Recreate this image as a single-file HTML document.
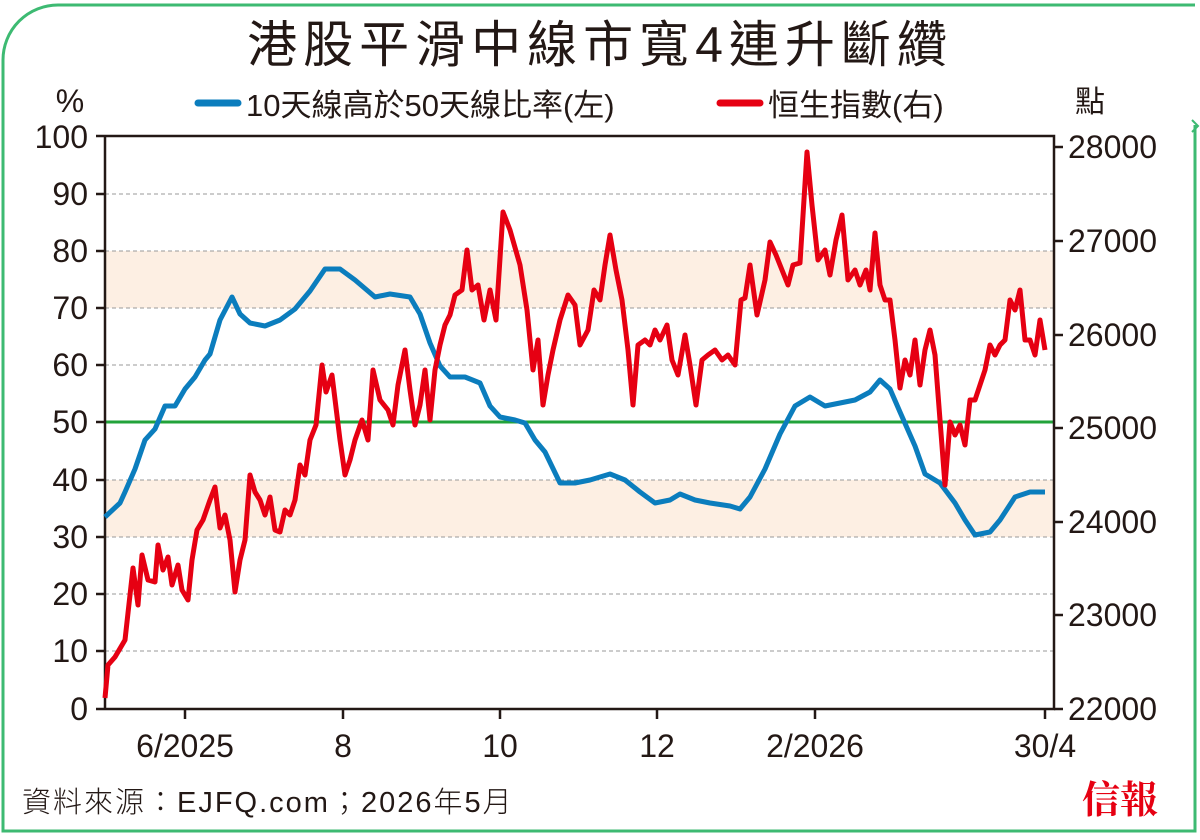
<!DOCTYPE html>
<html><head><meta charset="utf-8"><style>
body{margin:0;background:#fff;}
svg text{font-family:"Liberation Sans","Noto Sans CJK TC",sans-serif;fill:#231815;}
</style></head><body>
<svg width="1200" height="835" viewBox="0 0 1200 835" xmlns="http://www.w3.org/2000/svg">
<path d="M1195 125 V831 H3 V60 A55 55 0 0 1 58 5 H1195" fill="none" stroke="#3dba72" stroke-width="3"/>
<text x="600" y="62" font-size="50" text-anchor="middle" style="letter-spacing:6px">港股平滑中線市寬4連升斷纘</text>
<text x="70" y="112" font-size="32" text-anchor="middle">%</text>
<text x="1090" y="112" font-size="30" text-anchor="middle">點</text>
<line x1="198" y1="103" x2="238" y2="103" stroke="#0b7dbd" stroke-width="7" stroke-linecap="round"/>
<text x="246" y="116" font-size="31">10天線高於50天線比率(左)</text>
<line x1="720" y1="103" x2="760" y2="103" stroke="#e60012" stroke-width="7" stroke-linecap="round"/>
<text x="768" y="116" font-size="31">恒生指數(右)</text>
<rect x="105" y="251" width="949" height="57" fill="#fdefe3"/>
<rect x="105" y="480" width="949" height="57" fill="#fdefe3"/>
<g stroke="#999" stroke-width="1" stroke-dasharray="4,3">
<line x1="105" y1="194" x2="1054" y2="194"/><line x1="105" y1="251" x2="1054" y2="251"/>
<line x1="105" y1="308" x2="1054" y2="308"/><line x1="105" y1="365" x2="1054" y2="365"/>
<line x1="105" y1="480" x2="1054" y2="480"/><line x1="105" y1="537" x2="1054" y2="537"/>
<line x1="105" y1="594" x2="1054" y2="594"/><line x1="105" y1="651" x2="1054" y2="651"/>
</g>
<line x1="105" y1="422" x2="1054" y2="422" stroke="#22a33a" stroke-width="3"/>
<g stroke="#231815" stroke-width="2.5" fill="none">
<path d="M96 136 H1054 V709 H96 M105 136 V709"/>
<path d="M96 194h9M96 251h9M96 308h9M96 365h9M96 422h9M96 480h9M96 537h9M96 594h9M96 651h9"/>
<path d="M1054 147h9M1054 241h9M1054 335h9M1054 428h9M1054 522h9M1054 615h9M1054 709h9"/>
<path d="M185 709v10M343 709v10M500 709v10M657 709v10M815 709v10M1045 709v10"/>
</g>
<g font-size="32" text-anchor="end">
<text x="88" y="148">100</text><text x="88" y="205">90</text><text x="88" y="262">80</text><text x="88" y="319">70</text><text x="88" y="376">60</text><text x="88" y="433">50</text><text x="88" y="491">40</text><text x="88" y="548">30</text><text x="88" y="605">20</text><text x="88" y="662">10</text><text x="88" y="720">0</text>
</g>
<g font-size="32">
<text x="1068" y="158">28000</text><text x="1068" y="252">27000</text><text x="1068" y="346">26000</text><text x="1068" y="439">25000</text><text x="1068" y="533">24000</text><text x="1068" y="626">23000</text><text x="1068" y="720">22000</text>
</g>
<g font-size="32" text-anchor="middle">
<text x="185" y="757">6/2025</text><text x="343" y="757">8</text><text x="500" y="757">10</text><text x="657" y="757">12</text><text x="815" y="757">2/2026</text><text x="1045" y="757">30/4</text>
</g>
<text x="22" y="812" font-size="29" font-weight="300" style="letter-spacing:2px">資料來源：EJFQ.com；2026年5月</text>
<text x="1120" y="813" font-size="38" text-anchor="middle" font-weight="bold" style="fill:#e60012;font-family:'Noto Serif CJK SC',serif">信報</text>
<polyline fill="none" stroke="#0b7dbd" stroke-width="5" stroke-linejoin="round" points="
105,517 120,503 125,492 135,469 145,440 155,429 165,406 175,406 185,389 195,377 205,360 210,354 220,320 232,297 240,314 250,323 265,326 280,320 295,309 310,291 325,269 340,269 355,280 375,297 390,294 410,297 420,314 430,343 440,366 450,377 465,377 480,383 490,406 500,417 515,420 525,423 535,440 545,452 560,483 575,483 590,480 610,474 625,480 640,492 655,503 670,500 680,494 695,500 710,503 730,506 740,509 750,497 765,469 780,434 795,406 810,397 825,406 840,403 855,400 870,392 880,380 890,389 900,412 915,446 925,474 940,483 955,503 965,520 975,535 990,532 1000,520 1015,497 1030,492 1045,492"/>
<polyline fill="none" stroke="#e60012" stroke-width="5" stroke-linejoin="round" points="
105,698 108,665 115,657 125,640 133,568 138,605 142,555 148,580 155,582 158,545 163,570 168,557 172,585 178,565 182,590 188,600 192,560 197,530 203,520 210,500 215,487 220,528 225,515 230,540 235,592 240,560 245,540 250,475 255,492 260,500 265,515 270,497 275,530 280,532 285,510 290,515 295,500 300,465 305,475 310,440 316,425 322,365 326,392 332,375 340,440 345,475 350,460 355,440 362,420 368,440 373,370 380,400 388,410 393,425 398,385 405,350 410,390 415,425 420,405 425,370 430,420 435,370 440,345 445,325 450,315 455,295 462,290 467,250 472,290 478,285 484,320 490,290 496,320 503,212 510,230 520,265 527,310 533,370 538,340 543,405 548,375 553,350 560,320 568,295 575,305 580,345 588,330 594,290 600,300 605,265 610,235 616,270 622,300 628,350 633,405 638,345 645,340 650,345 655,330 660,340 667,325 672,360 678,375 685,335 690,365 696,405 702,360 708,355 715,350 722,360 728,355 735,365 741,300 745,298 750,265 757,315 765,280 770,242 776,255 782,270 788,285 793,265 800,263 807,152 812,205 818,260 825,250 830,275 836,240 842,215 848,280 855,270 860,285 866,270 870,290 875,233 880,285 885,300 890,300 895,340 900,388 905,360 910,375 915,340 920,385 925,350 930,330 935,355 940,420 945,485 950,422 955,435 960,425 965,445 970,400 975,400 980,385 985,370 990,345 995,355 1000,345 1005,340 1010,300 1015,310 1020,290 1025,340 1030,340 1035,355 1040,320 1045,350"/>
<path d="M1192 120 l6 6 l-6 6" fill="none" stroke="#3dba72" stroke-width="2"/>
</svg>
</body></html>
